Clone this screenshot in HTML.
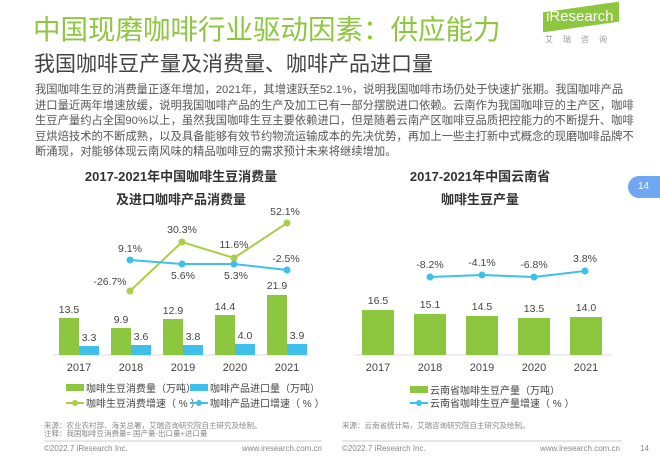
<!DOCTYPE html>
<html><head><meta charset="utf-8"><style>
body{margin:0;width:660px;height:460px;background:#fff;overflow:hidden;position:relative;font-family:"Liberation Sans","Noto Sans CJK SC",sans-serif;}
.t{position:absolute;white-space:nowrap}
</style></head><body>
<div class="t" style="left:33px;top:7px;font-size:27.5px;color:#8dc63f">中国现磨咖啡行业驱动因素：供应能力</div>
<div class="t" style="left:543px;top:7px;width:76px;height:20px;background:#8dc63f;transform:skewY(-8deg)"></div>
<div class="t" style="left:546px;top:8px;font-size:15px;color:#fff">iResearch</div>
<div class="t" style="left:545px;top:34px;font-size:8px;color:#999;letter-spacing:10px">艾瑞咨询</div>
<div class="t" style="left:34px;top:48px;font-size:21px;color:#444">我国咖啡豆产量及消费量、咖啡产品进口量</div>
<div class="t" style="left:35px;top:83px;font-size:11.3px;line-height:15.5px;color:#555">我国咖啡生豆的消费量正逐年增加，2021年，其增速跃至52.1%，说明我国咖啡市场仍处于快速扩张期。我国咖啡产品<br>进口量近两年增速放缓，说明我国咖啡产品的生产及加工已有一部分摆脱进口依赖。云南作为我国咖啡豆的主产区，咖啡<br>生豆产量约占全国90%以上，虽然我国咖啡生豆主要依赖进口，但是随着云南产区咖啡豆品质把控能力的不断提升、咖啡<br>豆烘焙技术的不断成熟，以及具备能够有效节约物流运输成本的先决优势，再加上一些主打新中式概念的现磨咖啡品牌不<br>断涌现，对能够体现云南风味的精品咖啡豆的需求预计未来将继续增加。</div>
<div class="t" style="left:628px;top:176px;width:40px;height:22px;border-radius:11px;background:#6fa8f0;color:#fff;font-size:10px;line-height:22px;padding-left:10px">14</div>
<svg width="660" height="460" style="position:absolute;left:0;top:0" font-family="Liberation Sans,Noto Sans CJK SC,sans-serif">
<g font-weight="bold" font-size="13" fill="#333" text-anchor="middle">
<text x="181" y="181">2017-2021年中国咖啡生豆消费量</text>
<text x="181" y="204">及进口咖啡产品消费量</text>
<text x="480" y="181">2017-2021年中国云南省</text>
<text x="480" y="204">咖啡生豆产量</text>
</g>
<g stroke="#ddd"><line x1="53" y1="355" x2="308" y2="355"/><line x1="355" y1="355" x2="612" y2="355"/></g>
<g fill="#8dc63f">
<rect x="59" y="318" width="20" height="37"/><rect x="111" y="328" width="20" height="27"/><rect x="163" y="319" width="20" height="36"/><rect x="215" y="315" width="20" height="40"/><rect x="267" y="295" width="20" height="60"/>
<rect x="362" y="310" width="32" height="45"/><rect x="414" y="314" width="32" height="41"/><rect x="466" y="316" width="32" height="39"/><rect x="518" y="318" width="32" height="37"/><rect x="570" y="317" width="32" height="38"/>
</g>
<g fill="#3ec0ea">
<rect x="79" y="346" width="20" height="9"/><rect x="131" y="345" width="20" height="10"/><rect x="183" y="345" width="20" height="10"/><rect x="235" y="344" width="20" height="11"/><rect x="287" y="344" width="20" height="11"/>
</g>
<polyline points="130,291 182,242 234,258 287,223" fill="none" stroke="#a8cf45" stroke-width="2"/>
<g fill="#a8cf45"><circle cx="130" cy="291" r="3.5"/><circle cx="182" cy="242" r="3.5"/><circle cx="234" cy="258" r="3.5"/><circle cx="287" cy="223" r="3.5"/></g>
<polyline points="130,260 182,264 234,264 287,270" fill="none" stroke="#3ec0ea" stroke-width="2"/>
<g fill="#3ec0ea"><circle cx="130" cy="260" r="3.5"/><circle cx="182" cy="264" r="3.5"/><circle cx="234" cy="264" r="3.5"/><circle cx="287" cy="270" r="3.5"/></g>
<polyline points="430,277 482,275 534,277 585,271" fill="none" stroke="#3ec0ea" stroke-width="2"/>
<g fill="#3ec0ea"><circle cx="430" cy="277" r="3.5"/><circle cx="482" cy="275" r="3.5"/><circle cx="534" cy="277" r="3.5"/><circle cx="585" cy="271" r="3.5"/></g>
<g font-size="10.5" fill="#444" text-anchor="middle">
<text x="69" y="313">13.5</text><text x="89" y="341">3.3</text><text x="121" y="323">9.9</text><text x="141" y="340">3.6</text><text x="173" y="314">12.9</text><text x="193" y="340">3.8</text><text x="225" y="310">14.4</text><text x="245" y="339">4.0</text><text x="277" y="289">21.9</text><text x="297" y="339">3.9</text>
<text x="130" y="252">9.1%</text><text x="110" y="285">-26.7%</text><text x="182" y="233">30.3%</text><text x="183" y="279">5.6%</text><text x="234" y="248">11.6%</text><text x="236" y="279">5.3%</text><text x="285" y="215">52.1%</text><text x="286" y="262">-2.5%</text>
<text x="378" y="304">16.5</text><text x="430" y="308">15.1</text><text x="482" y="310">14.5</text><text x="534" y="312">13.5</text><text x="586" y="311">14.0</text>
<text x="430" y="268">-8.2%</text><text x="482" y="266">-4.1%</text><text x="534" y="268">-6.8%</text><text x="585" y="262">3.8%</text>
</g>
<g font-size="11" fill="#444" text-anchor="middle">
<text x="79" y="371">2017</text><text x="131" y="371">2018</text><text x="183" y="371">2019</text><text x="235" y="371">2020</text><text x="287" y="371">2021</text>
<text x="378" y="371">2017</text><text x="430" y="371">2018</text><text x="482" y="371">2019</text><text x="534" y="371">2020</text><text x="586" y="371">2021</text>
</g>
<g font-size="10" fill="#444">
<rect x="66" y="384" width="18" height="7" fill="#8dc63f"/><text x="86" y="392">咖啡生豆消费量（万吨）</text>
<rect x="190" y="384" width="18" height="7" fill="#3ec0ea"/><text x="210" y="392">咖啡产品进口量（万吨）</text>
<line x1="66" y1="403" x2="84" y2="403" stroke="#a8cf45" stroke-width="2"/><circle cx="75" cy="403" r="3" fill="#a8cf45"/><text x="86" y="407">咖啡生豆消费增速（ % ）</text>
<line x1="190" y1="403" x2="208" y2="403" stroke="#3ec0ea" stroke-width="2"/><circle cx="199" cy="403" r="3" fill="#3ec0ea"/><text x="210" y="407">咖啡产品进口增速（ % ）</text>
<rect x="410" y="386" width="18" height="7" fill="#8dc63f"/><text x="430" y="394">云南省咖啡生豆产量（万吨）</text>
<line x1="410" y1="403" x2="428" y2="403" stroke="#3ec0ea" stroke-width="2"/><circle cx="419" cy="403" r="3" fill="#3ec0ea"/><text x="430" y="407">云南省咖啡生豆产量增速（ % ）</text>
</g>
<g font-size="7.5" fill="#888">
<text x="44" y="428">来源：农业农村部、海关总署，艾瑞咨询研究院自主研究及绘制。</text>
<text x="44" y="436">注释：我国咖啡豆消费量= 国产量-出口量+进口量</text>
<text x="342" y="428">来源：云南省统计局，艾瑞咨询研究院自主研究及绘制。</text>
</g>
<g stroke="#ccc"><line x1="44" y1="441" x2="322" y2="441"/><line x1="342" y1="441" x2="622" y2="441"/></g>
<g font-size="8" fill="#888">
<text x="44" y="451">©2022.7 iResearch Inc.</text><text x="322" y="451" text-anchor="end">www.iresearch.com.cn</text>
<text x="342" y="451">©2022.7 iResearch Inc.</text><text x="620" y="451" text-anchor="end">www.iresearch.com.cn</text>
<text x="640" y="451">14</text>
</g>
</svg>
</body></html>
